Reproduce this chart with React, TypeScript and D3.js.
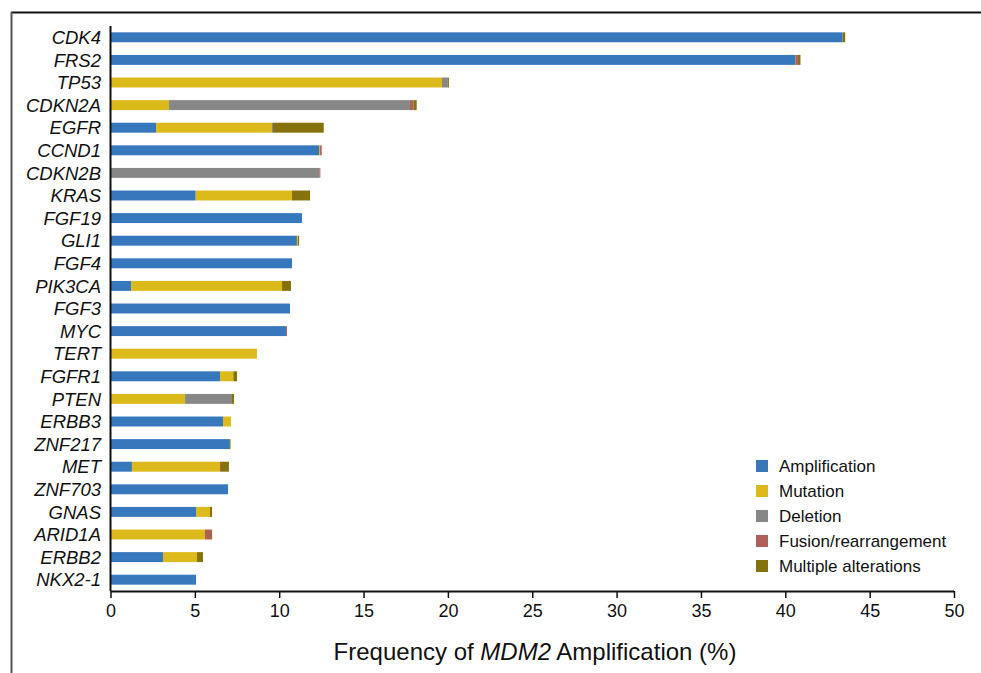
import React, { useEffect, useRef } from 'react';
import * as d3 from 'd3';

// genes, top to bottom
const genes = [
  'CDK4', 'FRS2', 'TP53', 'CDKN2A', 'EGFR', 'CCND1', 'CDKN2B', 'KRAS', 'FGF19', 'GLI1',
  'FGF4', 'PIK3CA', 'FGF3', 'MYC', 'TERT', 'FGFR1', 'PTEN', 'ERBB3', 'ZNF217', 'MET',
  'ZNF703', 'GNAS', 'ARID1A', 'ERBB2', 'NKX2-1',
];

const seriesNames = ['Amplification', 'Mutation', 'Deletion', 'Fusion/rearrangement', 'Multiple alterations'];
const seriesColors = ['#3777bc', '#ddba1c', '#878787', '#b0605a', '#85720c'];

// frequency (%) per gene, same order as genes
const amplification = [43.4, 40.6, 0, 0, 2.7, 12.36, 0, 5.05, 11.35, 11.05, 10.76, 1.22, 10.64, 10.4, 0, 6.49, 0, 6.67, 7.08, 1.27, 6.97, 5.07, 0, 3.11, 5.07];
const mutation = [0, 0, 19.65, 3.47, 6.87, 0.06, 0, 5.71, 0, 0.06, 0, 8.95, 0, 0, 8.68, 0.79, 4.42, 0.47, 0.06, 5.22, 0, 0.83, 5.6, 2.02, 0];
const deletion = [0, 0, 0.35, 14.28, 0.06, 0, 12.38, 0, 0, 0, 0, 0, 0, 0, 0, 0, 2.78, 0, 0, 0, 0, 0, 0, 0, 0];
const fusion = [0, 0.15, 0, 0.22, 0, 0.1, 0.06, 0, 0, 0, 0, 0, 0, 0.06, 0, 0, 0, 0, 0, 0.06, 0, 0, 0.36, 0, 0];
const multiple = [0.15, 0.15, 0.06, 0.18, 3.01, 0, 0, 1.07, 0, 0.07, 0, 0.53, 0, 0, 0, 0.22, 0.12, 0, 0, 0.47, 0, 0.12, 0.06, 0.35, 0];

const xTicks = [0, 5, 10, 15, 20, 25, 30, 35, 40, 45, 50];

const W = 981;
const H = 673;

const App: React.FC = () => {
  const ref = useRef<SVGSVGElement | null>(null);

  useEffect(() => {
    const svg = d3.select(ref.current);
    svg.selectAll('*').remove();

    const rows = genes.map((g, i) => ({
      gene: g,
      [seriesNames[0]]: amplification[i],
      [seriesNames[1]]: mutation[i],
      [seriesNames[2]]: deletion[i],
      [seriesNames[3]]: fusion[i],
      [seriesNames[4]]: multiple[i],
    }));

    const left = 110.5;
    const top = 26;
    const bottom = 591;

    const x = d3.scaleLinear().domain([0, 50]).range([left, 954]);
    const y = d3.scaleBand<string>().domain(genes).range([top, bottom]).paddingInner(0.56).paddingOuter(0.28);
    const color = d3.scaleOrdinal<string, string>().domain(seriesNames).range(seriesColors);

    // cropped figure frame
    svg.append('line').attr('x1', 11).attr('x2', W).attr('y1', 12.5).attr('y2', 12.5)
      .attr('stroke', '#111').attr('stroke-width', 2);
    svg.append('line').attr('x1', 11.5).attr('x2', 11.5).attr('y1', 12).attr('y2', H)
      .attr('stroke', '#555').attr('stroke-width', 2);

    const stack = d3.stack<any>().keys(seriesNames);
    const layers = stack(rows as any);

    svg.append('g').selectAll('g')
      .data(layers)
      .enter().append('g')
      .attr('fill', d => color(d.key))
      .selectAll('rect')
      .data(d => d)
      .enter().append('rect')
      .attr('x', d => x(d[0]))
      .attr('y', d => y((d.data as any).gene) as number)
      .attr('width', d => Math.max(0, x(d[1]) - x(d[0])))
      .attr('height', y.bandwidth());

    // y axis
    svg.append('line').attr('x1', left).attr('x2', left).attr('y1', top).attr('y2', bottom)
      .attr('stroke', '#111').attr('stroke-width', 2);
    svg.append('g').selectAll('text')
      .data(genes)
      .enter().append('text')
      .attr('x', 101)
      .attr('y', d => (y(d) as number) + y.bandwidth() / 2)
      .attr('dy', '0.36em')
      .attr('text-anchor', 'end')
      .attr('font-family', 'Liberation Sans, Arial, sans-serif')
      .attr('font-style', 'italic')
      .attr('font-size', 18.5)
      .attr('fill', '#111')
      .text(d => d);

    // x axis
    const xAxis = svg.append('g')
      .attr('transform', `translate(0,${bottom})`)
      .call(d3.axisBottom(x).tickValues(xTicks).tickSize(7).tickPadding(6).tickFormat(d3.format('d')));
    xAxis.select('.domain').attr('stroke', '#111').attr('stroke-width', 2).attr('d', `M${left},0.5H${x(50)}`);
    xAxis.selectAll('.tick line').attr('stroke', '#111').attr('stroke-width', 1.5);
    xAxis.selectAll('.tick text')
      .attr('font-family', 'Liberation Sans Narrow, Liberation Sans, Arial, sans-serif')
      .attr('font-size', 18)
      .attr('fill', '#111');

    const title = svg.append('text')
      .attr('x', 535)
      .attr('y', 660)
      .attr('text-anchor', 'middle')
      .attr('font-family', 'Liberation Sans Narrow, Liberation Sans, Arial, sans-serif')
      .attr('font-size', 24)
      .attr('fill', '#111');
    title.append('tspan').text('Frequency of ');
    title.append('tspan').attr('font-style', 'italic').text('MDM2');
    title.append('tspan').text(' Amplification (%)');

    // legend
    const legend = svg.append('g').attr('transform', 'translate(756,466)');
    const items = legend.selectAll('g')
      .data(seriesNames)
      .enter().append('g')
      .attr('transform', (d, i) => `translate(0,${i * 25})`);
    items.append('rect').attr('x', 0).attr('y', -6).attr('width', 12).attr('height', 12)
      .attr('fill', d => color(d));
    items.append('text').attr('x', 23).attr('y', 0).attr('dy', '0.35em')
      .attr('font-family', 'Liberation Sans, Arial, sans-serif')
      .attr('font-size', 17)
      .attr('fill', '#111')
      .text(d => d);
  }, []);

  return (
    <svg ref={ref} width={W} height={H} style={{ position: 'absolute', left: 0, top: 0, background: '#fff' }}></svg>
  );
};

export default App;
